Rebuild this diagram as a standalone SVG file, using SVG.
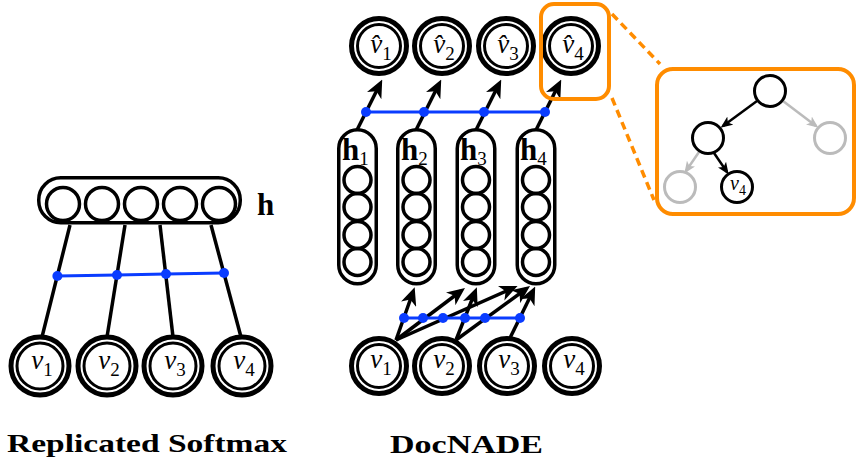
<svg xmlns="http://www.w3.org/2000/svg" width="857" height="463" viewBox="0 0 857 463">
<style>
.o{fill:#fff;stroke:#000;stroke-width:5}
.i{fill:none;stroke:#000;stroke-width:3}
.box{fill:#fff;stroke:#000;stroke-width:3.5}
.hc{fill:none;stroke:#000;stroke-width:3.5}
.ln{fill:none;stroke:#000;stroke-width:3.5}
.ar{fill:none;stroke:#000;stroke-width:3.5;marker-end:url(#ah)}
.bl{fill:none;stroke:#0a3cff;stroke-width:3}
.dot{fill:#0a3cff}
.v{font-family:"Liberation Serif",serif;font-style:italic;font-size:27px;fill:#000}
.s{font-style:normal;font-size:19px}
.hb{font-family:"Liberation Serif",serif;font-weight:bold;font-size:31px;fill:#000}
.hs{font-weight:normal;font-size:19px}
.cap{font-family:"Liberation Serif",serif;font-weight:bold;font-size:26px;fill:#000}
.org{fill:none;stroke:#ff8c00;stroke-width:4}
.dash{fill:none;stroke:#ff8c00;stroke-width:3.5;stroke-dasharray:8 5}
.tn{fill:#fff;stroke:#000;stroke-width:3}
.tg{fill:#fff;stroke:#bbb;stroke-width:3}
.ta{fill:none;stroke:#000;stroke-width:2.5;marker-end:url(#ahs)}
.tga{fill:none;stroke:#bbb;stroke-width:2.5;marker-end:url(#ahg)}
.tv{font-family:"Liberation Serif",serif;font-style:italic;font-size:20px;fill:#000}
.ts{font-style:normal;font-size:14px}
</style>
<defs>
<marker id="ah" viewBox="0 0 18 16" refX="13" refY="8" markerWidth="18" markerHeight="16" markerUnits="userSpaceOnUse" orient="auto"><path d="M0,0 L18,8 L0,16 L5,8 z" fill="#000"/></marker>
<marker id="ahs" viewBox="0 0 12 10" refX="9" refY="5" markerWidth="12" markerHeight="10" markerUnits="userSpaceOnUse" orient="auto"><path d="M0,0 L12,5 L0,10 L3,5 z" fill="#000"/></marker>
<marker id="ahg" viewBox="0 0 12 10" refX="9" refY="5" markerWidth="12" markerHeight="10" markerUnits="userSpaceOnUse" orient="auto"><path d="M0,0 L12,5 L0,10 L3,5 z" fill="#bbb"/></marker>
</defs>

<!-- Connectors -->
<g id="connectors">
  <!-- Replicated Softmax -->
  <line class="ln" x1="70" y1="225" x2="42" y2="337"/>
  <line class="ln" x1="125" y1="225" x2="107" y2="337"/>
  <line class="ln" x1="160" y1="225" x2="173" y2="337"/>
  <line class="ln" x1="211" y1="225" x2="241" y2="337"/>
  <polyline class="bl" points="57.4,276 117,275 166,274 224,273"/>
  <circle class="dot" cx="57.4" cy="276" r="5"/>
  <circle class="dot" cx="117" cy="275" r="5"/>
  <circle class="dot" cx="166" cy="274" r="5"/>
  <circle class="dot" cx="224" cy="273" r="5"/>
  <!-- DocNADE top -->
  <line class="ar" x1="357" y1="130" x2="380" y2="84"/>
  <line class="ar" x1="416" y1="130" x2="439" y2="84"/>
  <line class="ar" x1="476" y1="130" x2="499" y2="84"/>
  <line class="ar" x1="536" y1="130" x2="559" y2="84"/>
  <line class="bl" x1="366" y1="112" x2="545" y2="112"/>
  <circle class="dot" cx="366" cy="112" r="5"/>
  <circle class="dot" cx="424" cy="112" r="5"/>
  <circle class="dot" cx="484" cy="112" r="5"/>
  <circle class="dot" cx="545" cy="112" r="5"/>
  <!-- DocNADE bottom -->
  <line class="ar" x1="396" y1="340" x2="413" y2="292"/>
  <line class="ar" x1="396" y1="340" x2="461" y2="291"/>
  <line class="ar" x1="396" y1="340" x2="513" y2="288"/>
  <line class="ar" x1="456" y1="340" x2="475" y2="292"/>
  <line class="ar" x1="456" y1="340" x2="526" y2="289"/>
  <line class="ar" x1="510" y1="338" x2="533" y2="291"/>
  <line class="bl" x1="404" y1="318" x2="520" y2="318"/>
  <circle class="dot" cx="404" cy="318" r="5"/>
  <circle class="dot" cx="423" cy="318" r="5"/>
  <circle class="dot" cx="443" cy="318" r="5"/>
  <circle class="dot" cx="465" cy="318" r="5"/>
  <circle class="dot" cx="485" cy="318" r="5"/>
  <circle class="dot" cx="520" cy="318" r="5"/>
  <!-- zoom lines -->
  <line class="dash" x1="612" y1="14" x2="660" y2="64"/>
  <line class="dash" x1="612" y1="98" x2="654" y2="200"/>
  <!-- tree -->
  <line class="ta" x1="757" y1="101" x2="723" y2="126"/>
  <line class="tga" x1="783" y1="101" x2="816" y2="126"/>
  <line class="tga" x1="699" y1="152" x2="686" y2="171"/>
  <line class="ta" x1="714" y1="153" x2="727" y2="172"/>
</g>

<!-- Replicated Softmax -->
<g id="rs_h">
  <rect class="box" x="38.75" y="177.75" width="201.5" height="45" rx="22"/>
  <circle class="hc" cx="63" cy="204" r="16.5"/>
  <circle class="hc" cx="102" cy="204" r="16.5"/>
  <circle class="hc" cx="141" cy="204" r="16.5"/>
  <circle class="hc" cx="180" cy="204" r="16.5"/>
  <circle class="hc" cx="219" cy="204" r="16.5"/>
  <text class="hb" x="257" y="215">h</text>
</g>
<g id="rs_v1"><circle class="o" cx="40" cy="366" r="29"/><circle class="i" cx="40" cy="366" r="23"/><text class="v" x="42" y="369" text-anchor="middle">v<tspan class="s" dy="7">1</tspan></text></g>
<g id="rs_v2"><circle class="o" cx="107" cy="366" r="29"/><circle class="i" cx="107" cy="366" r="23"/><text class="v" x="109" y="369" text-anchor="middle">v<tspan class="s" dy="7">2</tspan></text></g>
<g id="rs_v3"><circle class="o" cx="173" cy="366" r="29"/><circle class="i" cx="173" cy="366" r="23"/><text class="v" x="175" y="369" text-anchor="middle">v<tspan class="s" dy="7">3</tspan></text></g>
<g id="rs_v4"><circle class="o" cx="242" cy="366" r="29"/><circle class="i" cx="242" cy="366" r="23"/><text class="v" x="244" y="369" text-anchor="middle">v<tspan class="s" dy="7">4</tspan></text></g>
<text class="cap" x="7" y="452" textLength="280" lengthAdjust="spacingAndGlyphs">Replicated Softmax</text>

<!-- DocNADE hidden columns -->
<g id="dn_h1">
  <rect class="box" x="338.75" y="129.75" width="37.5" height="154" rx="18.75"/>
  <circle class="hc" cx="357.5" cy="180" r="13.5"/><circle class="hc" cx="357.5" cy="207" r="13.5"/><circle class="hc" cx="357.5" cy="235" r="13.5"/><circle class="hc" cx="357.5" cy="262" r="13.5"/>
  <text class="hb" x="342" y="160">h<tspan class="hs" dy="5">1</tspan></text>
</g>
<g id="dn_h2">
  <rect class="box" x="397.75" y="129.75" width="37.5" height="154" rx="18.75"/>
  <circle class="hc" cx="416.5" cy="180" r="13.5"/><circle class="hc" cx="416.5" cy="207" r="13.5"/><circle class="hc" cx="416.5" cy="235" r="13.5"/><circle class="hc" cx="416.5" cy="262" r="13.5"/>
  <text class="hb" x="401" y="160">h<tspan class="hs" dy="5">2</tspan></text>
</g>
<g id="dn_h3">
  <rect class="box" x="457.25" y="129.75" width="37.5" height="154" rx="18.75"/>
  <circle class="hc" cx="476" cy="180" r="13.5"/><circle class="hc" cx="476" cy="207" r="13.5"/><circle class="hc" cx="476" cy="235" r="13.5"/><circle class="hc" cx="476" cy="262" r="13.5"/>
  <text class="hb" x="460" y="160">h<tspan class="hs" dy="5">3</tspan></text>
</g>
<g id="dn_h4">
  <rect class="box" x="517.25" y="129.75" width="37.5" height="154" rx="18.75"/>
  <circle class="hc" cx="536" cy="180" r="13.5"/><circle class="hc" cx="536" cy="207" r="13.5"/><circle class="hc" cx="536" cy="235" r="13.5"/><circle class="hc" cx="536" cy="262" r="13.5"/>
  <text class="hb" x="520" y="160">h<tspan class="hs" dy="5">4</tspan></text>
</g>

<!-- DocNADE outputs -->
<g id="dn_vh1"><circle class="o" cx="379" cy="46" r="27.5"/><circle class="i" cx="379" cy="46" r="21.5"/><text class="v" x="381" y="53" text-anchor="middle">v&#x302;<tspan class="s" dy="7">1</tspan></text></g>
<g id="dn_vh2"><circle class="o" cx="442" cy="46" r="27.5"/><circle class="i" cx="442" cy="46" r="21.5"/><text class="v" x="444" y="53" text-anchor="middle">v&#x302;<tspan class="s" dy="7">2</tspan></text></g>
<g id="dn_vh3"><circle class="o" cx="506" cy="46" r="27.5"/><circle class="i" cx="506" cy="46" r="21.5"/><text class="v" x="508" y="53" text-anchor="middle">v&#x302;<tspan class="s" dy="7">3</tspan></text></g>
<g id="dn_vh4"><circle class="o" cx="571" cy="46" r="27.5"/><circle class="i" cx="571" cy="46" r="21.5"/><text class="v" x="573" y="53" text-anchor="middle">v&#x302;<tspan class="s" dy="7">4</tspan></text></g>
<rect id="zoom_box" class="org" x="541" y="4" width="68" height="95" rx="13"/>

<!-- DocNADE inputs -->
<g id="dn_v1"><circle class="o" cx="379" cy="366" r="27.5"/><circle class="i" cx="379" cy="366" r="21.5"/><text class="v" x="381" y="368" text-anchor="middle">v<tspan class="s" dy="7">1</tspan></text></g>
<g id="dn_v2"><circle class="o" cx="442" cy="366" r="27.5"/><circle class="i" cx="442" cy="366" r="21.5"/><text class="v" x="444" y="368" text-anchor="middle">v<tspan class="s" dy="7">2</tspan></text></g>
<g id="dn_v3"><circle class="o" cx="507" cy="366" r="27.5"/><circle class="i" cx="507" cy="366" r="21.5"/><text class="v" x="509" y="368" text-anchor="middle">v<tspan class="s" dy="7">3</tspan></text></g>
<g id="dn_v4"><circle class="o" cx="572" cy="366" r="27.5"/><circle class="i" cx="572" cy="366" r="21.5"/><text class="v" x="574" y="368" text-anchor="middle">v<tspan class="s" dy="7">4</tspan></text></g>
<text class="cap" x="390" y="453" textLength="153" lengthAdjust="spacingAndGlyphs">DocNADE</text>

<!-- Tree inset -->
<rect id="tree_box" class="org" x="657" y="69" width="197" height="145" rx="16"/>
<g id="t_root"><circle class="tn" cx="770" cy="91" r="15.5"/></g>
<g id="t_left"><circle class="tn" cx="708" cy="138" r="15.5"/></g>
<g id="t_right"><circle class="tg" cx="830" cy="138" r="15.5"/></g>
<g id="t_ll"><circle class="tg" cx="680" cy="187" r="15.5"/></g>
<g id="t_v4"><circle class="tn" cx="737" cy="187" r="15.5"/><text class="tv" x="738" y="190" text-anchor="middle">v<tspan class="ts" dy="5">4</tspan></text></g>
</svg>
